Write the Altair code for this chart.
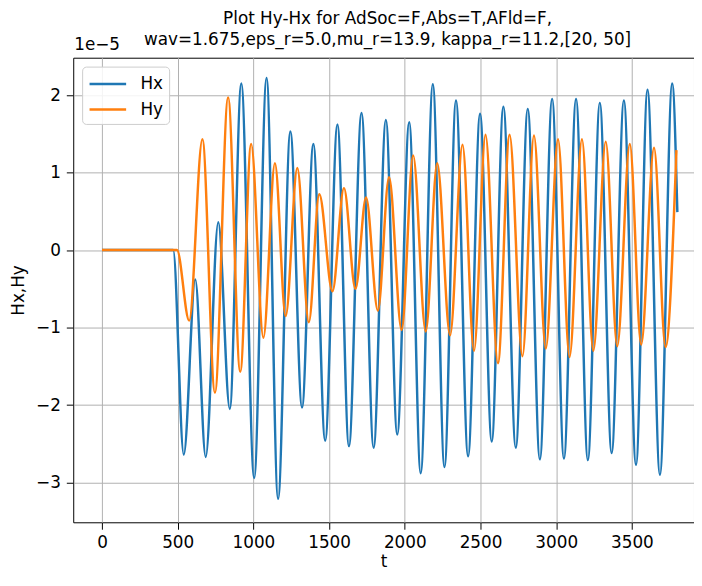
import altair as alt
import pandas as pd

# ---- data (values in units of 1e-5) ----
hx_t = [0, 470, 540, 616, 685, 768, 844, 920, 1005, 1087, 1163, 1244, 1321, 1396,
        1474, 1555, 1631, 1714, 1794, 1875, 1950, 2029, 2105, 2185, 2262, 2338,
        2418, 2497, 2574, 2651, 2733, 2812, 2892, 2973, 3051, 3131, 3209, 3288,
        3366, 3447, 3527, 3603, 3685, 3766, 3800]
hx_v = [0, 0, -2.64, -0.38, -2.67, 0.36, -2.05, 2.15, -2.94, 2.22, -3.21, 1.53, -2.03, 1.37,
        -2.46, 1.62, -2.53, 1.77, -2.55, 1.68, -2.38, 1.65, -2.88, 2.14, -2.80, 1.93,
        -2.66, 1.76, -2.47, 1.85, -2.55, 1.82, -2.70, 1.95, -2.69, 1.95, -2.71, 1.90,
        -2.62, 1.93, -2.77, 2.07, -2.90, 2.15, 0.49]

hy_t = [0, 495, 576, 663, 746, 833, 913, 985, 1066, 1142, 1213, 1290, 1366, 1435,
        1522, 1598, 1674, 1744, 1822, 1896, 1979, 2055, 2138, 2214, 2299, 2381,
        2457, 2533, 2615, 2692, 2777, 2853, 2931, 3012, 3088, 3170, 3245, 3327,
        3403, 3486, 3561, 3646, 3722, 3794]
hy_v = [0, 0, -0.91, 1.43, -1.84, 1.97, -1.57, 1.37, -1.13, 1.12, -0.85, 1.06, -0.93, 0.72,
        -0.53, 0.80, -0.50, 0.68, -0.78, 0.94, -1.03, 1.22, -1.05, 1.12, -1.10, 1.36,
        -1.30, 1.49, -1.46, 1.49, -1.37, 1.48, -1.27, 1.43, -1.38, 1.43, -1.30, 1.40,
        -1.24, 1.37, -1.22, 1.32, -1.25, 1.29]

series_names = ["Hx", "Hy"]
series_colors = ["#1f77b4", "#ff7f0e"]
x_ticks = [0, 500, 1000, 1500, 2000, 2500, 3000, 3500]
y_ticks = [-3, -2, -1, 0, 1, 2]
title_lines = ["Plot Hy-Hx for AdSoc=F,Abs=T,AFld=F,",
               "wav=1.675,eps_r=5.0,mu_r=13.9, kappa_r=11.2,[20, 50]"]
offset_label = "1e\u22125"
x_title = "t"
y_title = "Hx,Hy"

df = pd.concat([
    pd.DataFrame({"t": hx_t, "v": hx_v, "series": series_names[0]}),
    pd.DataFrame({"t": hy_t, "v": hy_v, "series": series_names[1]}),
], ignore_index=True)

FONT = "DejaVu Sans"

lines = alt.Chart(df).mark_line(interpolate="monotone", strokeWidth=2.5, clip=True).encode(
    x=alt.X("t:Q",
            scale=alt.Scale(domain=[-190, 3910], nice=False, zero=False),
            axis=alt.Axis(values=x_ticks, title=x_title, format="d")),
    y=alt.Y("v:Q",
            scale=alt.Scale(domain=[-3.513, 2.483], nice=False, zero=False),
            axis=alt.Axis(values=y_ticks, title=y_title, format="d")),
    color=alt.Color("series:N",
                    scale=alt.Scale(domain=series_names, range=series_colors),
                    legend=alt.Legend(title=None, orient="none", legendX=9, legendY=9,
                                      symbolType="M-1.85,0H1.85", symbolSize=400,
                                      symbolStrokeWidth=2.5, symbolOffset=8.5,
                                      labelFontSize=17, labelFont=FONT,
                                      labelColor="#000000", labelOffset=21.5,
                                      padding=6, rowPadding=6,
                                      fillColor="rgba(255,255,255,0.85)",
                                      strokeColor="#cccccc", cornerRadius=4)),
)

offset_text = alt.Chart(pd.DataFrame({"label": [offset_label]})).mark_text(
    align="left", baseline="alphabetic", fontSize=17, font=FONT, color="#000000"
).encode(x=alt.value(1), y=alt.value(-8), text="label:N")

chart = alt.layer(lines, offset_text).properties(
    width=628,
    height=470,
    title=alt.TitleParams(text=title_lines, fontSize=17, font=FONT, fontWeight="normal",
                          color="#000000", anchor="middle", lineHeight=21, offset=-13, dx=4),
    autosize=alt.AutoSizeParams(type="none"),
    padding={"left": 66, "top": 47, "right": 0, "bottom": 48},
).configure_axis(
    labelFont=FONT, labelFontSize=17, labelColor="#000000",
    titleFont=FONT, titleFontSize=17, titleFontWeight="normal", titleColor="#000000",
    gridColor="#b0b0b0", gridWidth=1, gridOpacity=1,
    tickColor="#000000", tickSize=7, tickWidth=1,
    domain=False,
).configure_axisY(labelPadding=6, titlePadding=8).configure_axisX(
    labelPadding=6, titlePadding=3
).configure_view(
    stroke="#000000", strokeWidth=1
)

chart.save("out.html", embed_options={"renderer": "svg", "actions": False})
